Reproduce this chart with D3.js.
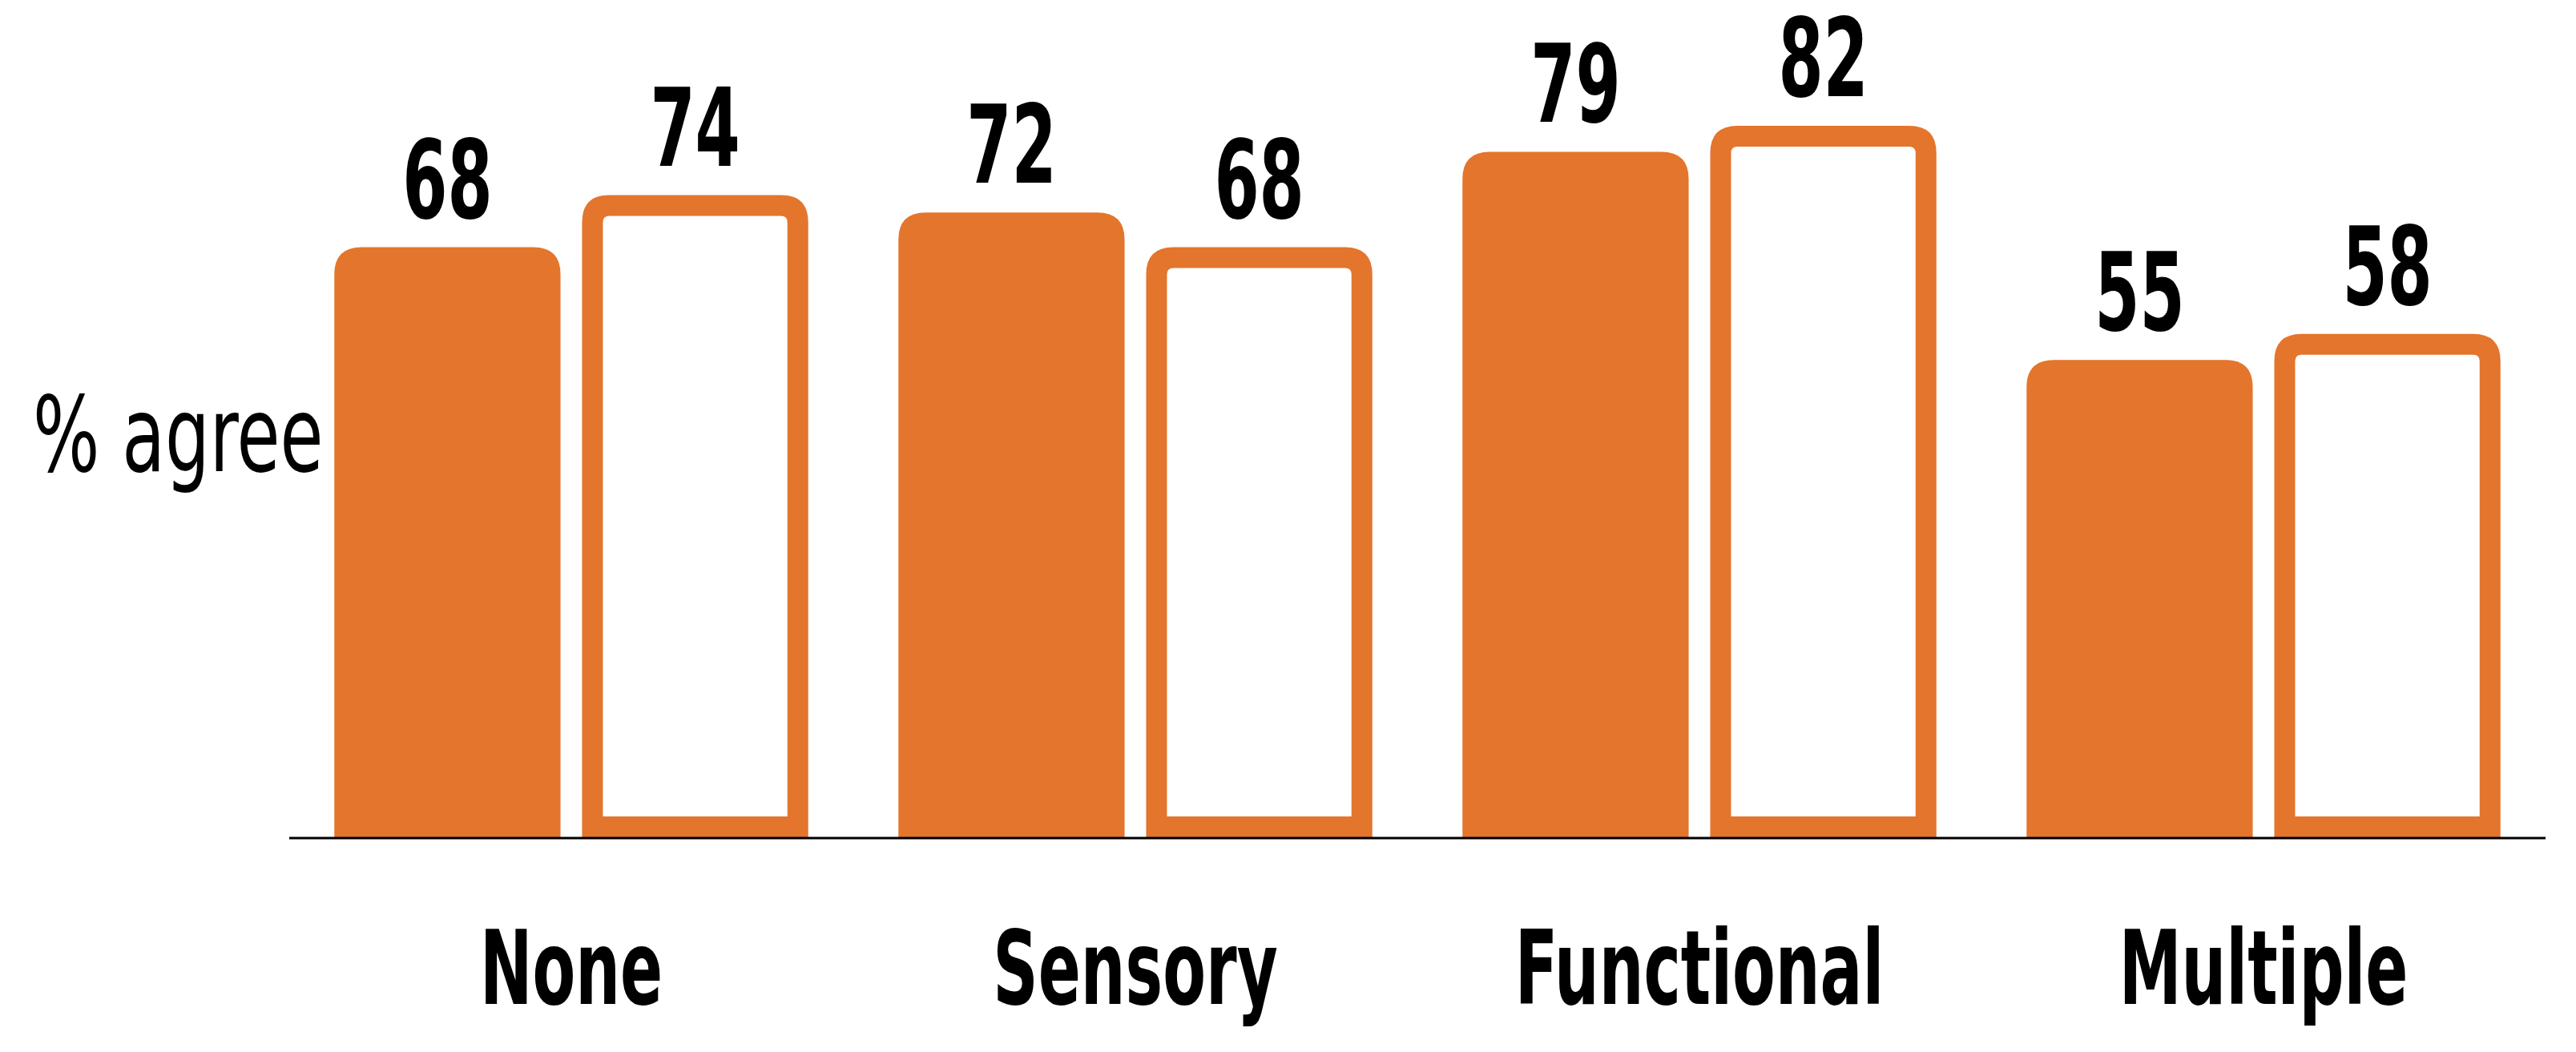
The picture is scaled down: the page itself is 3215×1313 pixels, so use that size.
<!DOCTYPE html>
<html>
<head>
<meta charset="utf-8">
<script src="https://cdn.jsdelivr.net/npm/d3@7"></script>
<style>
  html, body { margin: 0; padding: 0; background: #ffffff; }
  svg { display: block; }
  text { font-family: "Liberation Sans Narrow", "Arial Narrow", "DejaVu Sans Condensed", sans-serif; font-weight: bold; fill: #000; }
</style>
</head>
<body>
<svg id="chart" width="3215" height="1313"></svg>
<script>
// ---- data ----
const categories = ["None", "Sensory", "Functional", "Multiple"];
const seriesNames = ["Series A", "Series B"];
const seriesA = [68, 72, 79, 55];   // solid bars
const seriesB = [74, 68, 82, 58];   // outlined bars
const yAxisLabel = "% agree";

// ---- layout ----
const W = 3215, H = 1313;
const baseY = 1045;
const axisX0 = 361, axisX1 = 3177;
const orange = "#E4752C";

const svg = d3.select("#chart");

const x0 = d3.scaleBand().domain(categories).range([axisX0, axisX1]).padding(0);
const x1 = d3.scaleBand().domain(seriesNames).range([0, x0.bandwidth()])
  .paddingInner(0.087).paddingOuter(0.182);
const y = d3.scaleLinear().domain([0, 100]).range([baseY, baseY - 1083]);

function topRounded(p, x, yy, w, h, r) {
  p.moveTo(x, yy + h);
  p.lineTo(x, yy + r);
  p.quadraticCurveTo(x, yy, x + r, yy);
  p.lineTo(x + w - r, yy);
  p.quadraticCurveTo(x + w, yy, x + w, yy + r);
  p.lineTo(x + w, yy + h);
  p.closePath();
}
function roundedPath(x, yy, w, h, r) {
  const p = d3.path();
  topRounded(p, x, yy, w, h, r);
  return p.toString();
}
function outlinePath(x, yy, w, h, r, t, ri) {
  const p = d3.path();
  topRounded(p, x, yy, w, h, r);
  topRounded(p, x + t, yy + t, w - 2 * t, h - 2 * t, ri);
  return p.toString();
}

const data = categories.map((c, i) => ({ cat: c, a: seriesA[i], b: seriesB[i] }));

const g = svg.selectAll("g.grp").data(data).join("g")
  .attr("class", "grp")
  .attr("transform", d => `translate(${x0(d.cat)},0)`);

const bw = x1.bandwidth();
// solid bars
g.append("path")
  .attr("d", d => roundedPath(x1(seriesNames[0]), y(d.a), bw, baseY - y(d.a), 34))
  .attr("fill", orange);
// outlined bars
g.append("path")
  .attr("d", d => outlinePath(x1(seriesNames[1]), y(d.b), bw, baseY - y(d.b), 34, 26, 8))
  .attr("fill", orange)
  .attr("fill-rule", "evenodd");

// value labels
const valSize = 136, valSX = 0.66;
function valLabel(sel, key, sname) {
  sel.append("text")
    .attr("transform", d => `translate(${x1(sname) + bw / 2},${y(d[key]) - 37}) scale(${valSX},1)`)
    .attr("text-anchor", "middle")
    .style("font-size", valSize + "px")
    .text(d => d[key]);
}
valLabel(g, "a", seriesNames[0]);
valLabel(g, "b", seriesNames[1]);

// baseline axis
svg.append("line")
  .attr("x1", axisX0).attr("x2", axisX1)
  .attr("y1", baseY + 1).attr("y2", baseY + 1)
  .attr("stroke", "#000").attr("stroke-width", 3);

// category labels
const catSize = 128, catSX = 0.68;
svg.selectAll("text.cat").data(categories).join("text")
  .attr("class", "cat")
  .attr("transform", d => `translate(${x0(d) + x0.bandwidth() / 2},1253) scale(${catSX},1)`)
  .attr("text-anchor", "middle")
  .style("font-size", catSize + "px")
  .text(d => d);

// y-axis label
svg.append("text")
  .attr("transform", `translate(41,588) scale(0.75,1)`)
  .attr("text-anchor", "start")
  .style("font-size", "130px")
  .style("font-weight", "normal")
  .text(yAxisLabel);
</script>
</body>
</html>
